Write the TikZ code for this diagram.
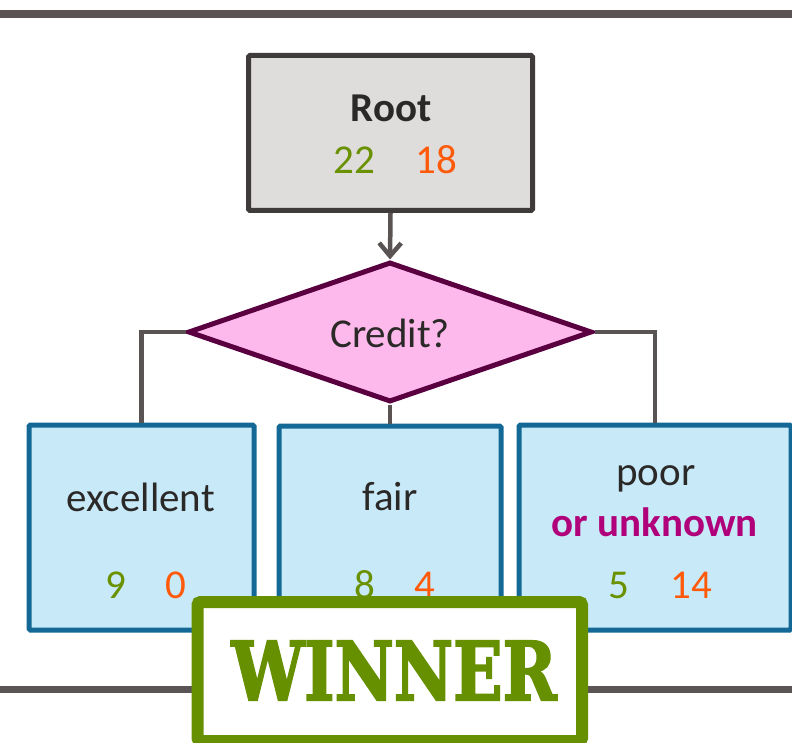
\documentclass[tikz,border=0pt]{standalone}
\usepackage{fontspec}
\usepackage{graphicx}
\setmainfont{Carlito}
\newfontfamily\stampfont{DejaVu Serif}[BoldFeatures={FakeBold=2.5}]
\usetikzlibrary{shapes.geometric,arrows.meta}

\definecolor{barcol}{HTML}{5B5454}
\definecolor{linkcol}{HTML}{5A5353}
\definecolor{rootfill}{HTML}{DEDDDC}
\definecolor{rootdraw}{HTML}{403B3B}
\definecolor{diafill}{HTML}{FDB9EC}
\definecolor{diadraw}{HTML}{5A0040}
\definecolor{leaffill}{HTML}{C8EAF8}
\definecolor{leafdraw}{HTML}{136895}
\definecolor{yescol}{HTML}{6A9100}
\definecolor{nocol}{HTML}{FF5A0A}
\definecolor{unkcol}{HTML}{B0007A}
\definecolor{inkcol}{HTML}{2B2828}
\definecolor{stampcol}{HTML}{679000}

\tikzset{
  bar/.style={draw=barcol, line width=7.5pt},
  link/.style={draw=linkcol, line width=4.5pt},
  rootbox/.style={rectangle, draw=rootdraw, fill=rootfill, line width=5pt,
    rounded corners=1.5pt, minimum width=284pt, minimum height=155pt, inner sep=0pt},
  question/.style={diamond, draw=diadraw, fill=diafill, line width=5pt,
    minimum width=404pt, minimum height=140pt, inner sep=0pt},
  leaf/.style={rectangle, draw=leafdraw, fill=leaffill, line width=5pt,
    rounded corners=1.5pt, minimum height=205pt, inner sep=0pt},
  label/.style={anchor=base, inner sep=0pt, text=inkcol,
    font=\fontsize{41}{49}\selectfont},
  boldlabel/.style={label, font=\fontsize{41}{49}\selectfont\bfseries},
  yes/.style={anchor=base, inner sep=0pt, text=yescol,
    font=\fontsize{41}{49}\selectfont},
  no/.style={anchor=base, inner sep=0pt, text=nocol,
    font=\fontsize{41}{49}\selectfont},
  stamp/.style={rectangle, draw=stampcol, fill=white, line width=12pt,
    rounded corners=3pt, minimum width=384.5pt, minimum height=139pt, inner sep=0pt},
}

\begin{document}
\begin{tikzpicture}[x=1pt,y=-1pt]
  \useasboundingbox (0,0) rectangle (792,743);
  \clip (0,0) rectangle (792,743);

  % horizontal rules
  \draw[bar] (0,14) -- (792,14);
  \draw[bar] (0,689.5) -- (792,689.5);

  % tree nodes
  \node[rootbox] (root) at (390.5,133) {};
  \node[question] (credit) at (390,332) {};
  \node[leaf, minimum width=225pt] (excellent) at (141.5,527.5) {};
  \node[leaf, minimum width=222pt] (fair) at (390,528.5) {};
  \node[leaf, minimum width=272pt] (poor) at (655,527.5) {};

  % connectors
  \draw[link, -{Straight Barb[length=13pt,width=22pt]}] (root.south) -- (credit.north);
  \draw[link] (credit.west) -| (excellent.north);
  \draw[link] (credit.south) -- (fair.north);
  \draw[link] (credit.east) -| (poor.north);

  % labels
  \node[boldlabel] (roottext) at (391,121.7) {Root};
  \node[yes] (rootyes) at (354,173.3) {22};
  \node[no] (rootno) at (436.7,173.3) {18};

  \node[label] (credittext) at (390,347) {Credit?};

  \node[label] (exctext) at (140.5,511.7) {excellent};
  \node[yes] (excyes) at (115.5,598) {9};
  \node[no] (excno) at (175.7,598) {0};

  \node[label] (fairtext) at (390,510) {fair};
  \node[yes] (fairyes) at (365,598) {8};
  \node[no] (fairno) at (425,598) {4};

  \node[label] (poortext) at (656,485) {poor};
  \node[boldlabel, text=unkcol] (unktext) at (654.7,536.7) {or unknown};
  \node[yes] (pooryes) at (619,598) {5};
  \node[no] (poorno) at (691.7,598) {14};

  % winner stamp
  \node[stamp] (winner) at (389.75,671.5) {};
  \node[anchor=base, inner sep=0pt, text=stampcol] (wintext) at (394,700)
    {\resizebox{325pt}{59pt}{\stampfont\bfseries WINNER}};
\end{tikzpicture}
\end{document}
